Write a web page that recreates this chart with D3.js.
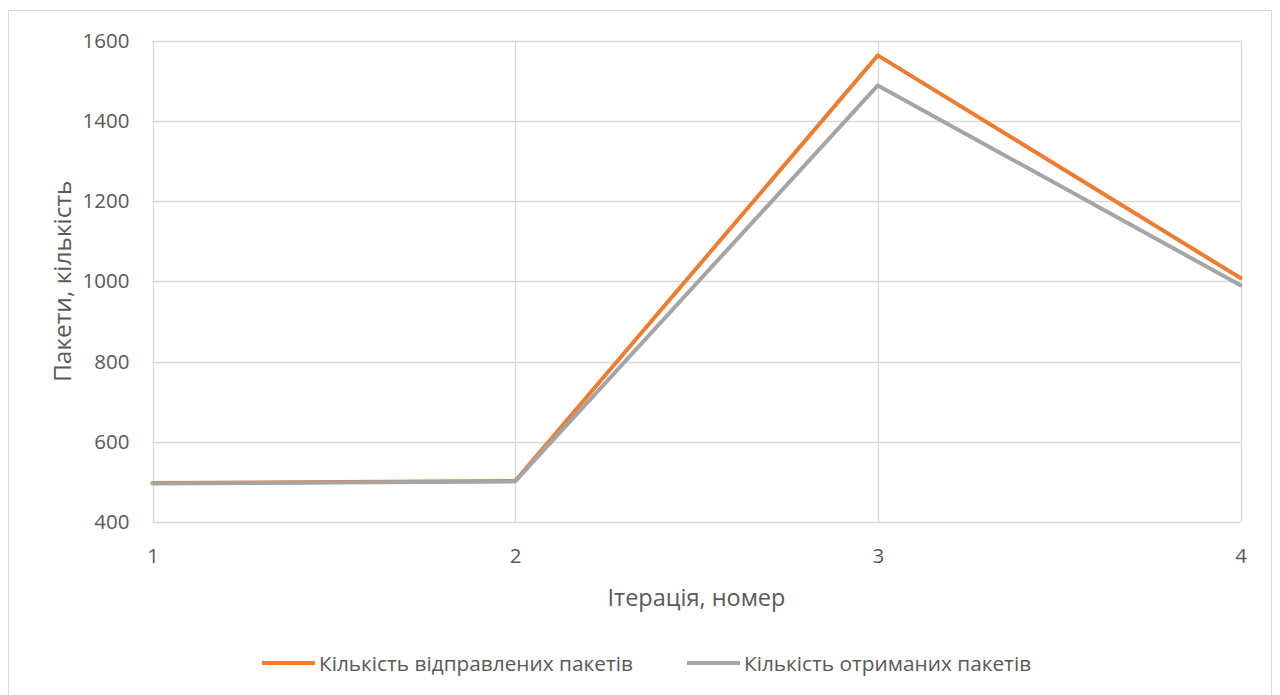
<!DOCTYPE html>
<html>
<head>
<meta charset="utf-8">
<script src="https://cdn.jsdelivr.net/npm/d3@7"></script>
<style>
  html, body { margin: 0; padding: 0; background: #fff; }
  svg { display: block; font-family: "Open Sans", "Liberation Sans", sans-serif; }
</style>
</head>
<body>
<svg id="chart" width="1280" height="695"></svg>
<script>
// Iteration numbers and packet counts per iteration
const iterations = [1, 2, 3, 4];
const sentPackets = [497, 502, 1563, 1008];
const receivedPackets = [496, 501, 1488, 990];
const yTicks = [400, 600, 800, 1000, 1200, 1400, 1600];
const seriesNames = ["Кількість відправлених пакетів", "Кількість отриманих пакетів"];
const seriesColors = ["#ed7d31", "#a5a5a5"];

const svg = d3.select("#chart");
const plot = { left: 152.5, right: 1240.5, top: 40.5, bottom: 522 };
const textColor = "#595959";
const fontFamily = "'Open Sans', 'Liberation Sans', sans-serif";

// outer chart frame
svg.append("rect")
  .attr("x", 8.5).attr("y", 10.5)
  .attr("width", 1263).attr("height", 700)
  .attr("fill", "#fff").attr("stroke", "#d9d9d9").attr("stroke-width", 1);

const x = d3.scaleLinear().domain([1, 4]).range([plot.left, plot.right]);
const y = d3.scaleLinear().domain([400, 1600]).range([plot.bottom, plot.top]);

// horizontal gridlines
svg.append("g")
  .selectAll("line").data(yTicks).join("line")
  .attr("x1", plot.left).attr("x2", plot.right)
  .attr("y1", d => Math.round(y(d)) + 0.5).attr("y2", d => Math.round(y(d)) + 0.5)
  .attr("stroke", "#d9d9d9").attr("stroke-width", 1.3);

// vertical gridlines
svg.append("g")
  .selectAll("line").data(iterations).join("line")
  .attr("x1", d => Math.round(x(d)) + 0.5).attr("x2", d => Math.round(x(d)) + 0.5)
  .attr("y1", plot.top).attr("y2", plot.bottom)
  .attr("stroke", "#d9d9d9").attr("stroke-width", 1.3);

// y tick labels
const yAxis = d3.axisLeft(y).tickValues(yTicks).tickFormat(d3.format("d")).tickSize(0).tickPadding(0);
const gy = svg.append("g").attr("transform", `translate(${plot.left - 23},0)`).call(yAxis);
gy.select(".domain").remove();
gy.selectAll("text")
  .attr("fill", textColor).style("font-size", "20.5px").style("font-family", fontFamily);

// x tick labels
const xAxis = d3.axisBottom(x).tickValues(iterations).tickFormat(d3.format("d")).tickSize(0).tickPadding(0);
const gx = svg.append("g").attr("transform", `translate(0,${plot.bottom + 26})`).call(xAxis);
gx.select(".domain").remove();
gx.selectAll("text")
  .attr("fill", textColor).style("font-size", "20.5px").style("font-family", fontFamily);

// axis titles
svg.append("text")
  .attr("x", (plot.left + plot.right) / 2).attr("y", 606)
  .attr("text-anchor", "middle").attr("fill", textColor)
  .style("font-size", "23.5px").text("Ітерація, номер");

svg.append("text")
  .attr("transform", `translate(71,${(plot.top + plot.bottom) / 2}) rotate(-90)`)
  .attr("text-anchor", "middle").attr("fill", textColor)
  .style("font-size", "24.5px").text("Пакети, кількість");

// series lines
const line = d3.line().x((d, i) => x(iterations[i])).y(d => y(d));
[sentPackets, receivedPackets].forEach((vals, k) => {
  svg.append("path")
    .datum(vals)
    .attr("d", line)
    .attr("fill", "none")
    .attr("stroke", seriesColors[k])
    .attr("stroke-width", 4)
    .attr("stroke-linejoin", "round")
    .attr("stroke-linecap", "round");
});

// legend
const legendItems = [
  { x: 262, name: seriesNames[0], color: seriesColors[0] },
  { x: 687, name: seriesNames[1], color: seriesColors[1] }
];
const lg = svg.append("g");
legendItems.forEach(it => {
  lg.append("line")
    .attr("x1", it.x).attr("x2", it.x + 53)
    .attr("y1", 663).attr("y2", 663)
    .attr("stroke", it.color).attr("stroke-width", 4);
  lg.append("text")
    .attr("x", it.x + 57).attr("y", 671)
    .attr("fill", textColor).style("font-size", "20.8px")
    .text(it.name);
});
</script>
</body>
</html>
